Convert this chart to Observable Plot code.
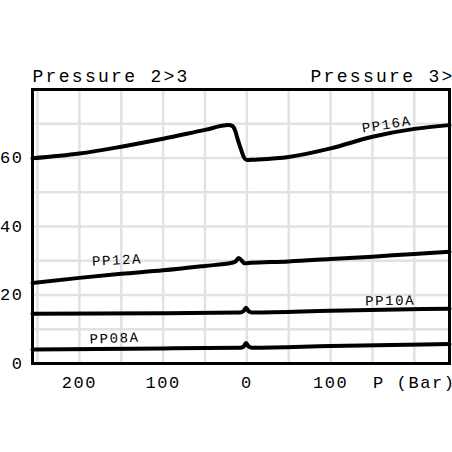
<!DOCTYPE html>
<html>
<head>
<meta charset="utf-8">
<script src="https://cdn.jsdelivr.net/npm/d3@7"></script>
<script src="https://cdn.jsdelivr.net/npm/@observablehq/plot@0.6"></script>
<style>
  html, body { margin: 0; padding: 0; background: #fff; overflow: hidden; }
  svg text { letter-spacing: 1.6px; }
  svg .title text { letter-spacing: 2.3px; }
</style>
</head>
<body>
<div id="chart"></div>
<script>
// Pressure in bar: negative = "Pressure 2>3" side (left), positive = "Pressure 3>2" side (right)
const pp16Bar = [-256, -200, -150, -100, -50, -22, -17, -14, -11, -7, -3, 0, 8, 50, 100, 150, 200, 242];
const pp16Val = [59.9, 61.3, 63.3, 65.6, 68.2, 69.6, 69.3, 68.0, 65.5, 62.5, 60.0, 59.4, 59.5, 60.3, 62.8, 66.2, 68.5, 69.6];

const pp12Bar = [-256, -200, -150, -100, -50, -18, -13, -10, -7, -3, 5, 50, 100, 150, 200, 242];
const pp12Val = [23.5, 25.0, 26.2, 27.2, 28.5, 29.4, 29.9, 30.8, 30.3, 29.3, 29.4, 29.8, 30.5, 31.2, 32.0, 32.6];

const pp10Bar = [-256, -100, -8, -4, -1, 2, 6, 100, 242];
const pp10Val = [14.5, 14.7, 14.9, 15.3, 16.3, 15.3, 14.9, 15.4, 16.0];

const pp08Bar = [-256, -100, -8, -4, -1, 2, 6, 100, 242];
const pp08Val = [4.1, 4.4, 4.6, 4.9, 6.0, 5.0, 4.6, 5.1, 5.7];

const seriesNames = ["PP16A", "PP12A", "PP10A", "PP08A"];
const labelBar = [167, -155, 171, -158];
const labelVal = [69.8, 30.2, 18.4, 7.4];
const labelAngle = [-9, -3, -1, -2];

const xTickValues = [-200, -100, 0, 100, 200];
const xTickLabels = ["200", "100", "0", "100", "P (Bar)"];
const yTickValues = [0, 20, 40, 60];
const xGrid = [-250, -200, -150, -100, -50, 0, 50, 100, 150, 200];
const yGrid = [10, 20, 30, 40, 50, 60, 70];
const titles = ["Pressure 2>3", "Pressure 3>2"];

const toRows = (xs, ys, name) => xs.map((x, i) => ({x, y: ys[i], name}));
const lines = [
  toRows(pp16Bar, pp16Val, "PP16A"),
  toRows(pp12Bar, pp12Val, "PP12A"),
  toRows(pp10Bar, pp10Val, "PP10A"),
  toRows(pp08Bar, pp08Val, "PP08A")
];
const labels = seriesNames.map((n, i) => ({name: n, x: labelBar[i], y: labelVal[i], a: labelAngle[i]}));

const font = "'Liberation Mono', 'DejaVu Sans Mono', monospace";

const chart = Plot.plot({
  width: 452,
  height: 452,
  marginLeft: 32,
  marginRight: 3,
  marginTop: 89,
  marginBottom: 89,
  style: {fontFamily: font, fontSize: "17px", color: "#000", background: "#fff"},
  x: {
    domain: [-256, 242],
    ticks: xTickValues,
    tickFormat: d => xTickLabels[xTickValues.indexOf(d)],
    tickSize: 0,
    tickPadding: 12,
    label: null
  },
  y: {
    domain: [0, 80],
    ticks: yTickValues,
    tickSize: 0,
    tickPadding: 9,
    label: null
  },
  marks: [
    Plot.ruleX(xGrid, {stroke: "#e2e2e2", strokeWidth: 2.5}),
    Plot.ruleY(yGrid, {stroke: "#e2e2e2", strokeWidth: 2.5}),
    ...lines.map(rows => Plot.line(rows, {x: "x", y: "y", stroke: "#000", strokeWidth: 4, curve: "monotone-x", strokeLinejoin: "round"})),
    ...labels.map(l => Plot.text([l], {x: "x", y: "y", text: "name", rotate: l.a, fontSize: 14, fill: "#000"})),
    Plot.frame({stroke: "#000", strokeWidth: 3}),
    Plot.text([titles[0]], {frameAnchor: "top-left", text: d => d, textAnchor: "start", dy: -20, fontSize: 18, className: "title"}),
    Plot.text([titles[1]], {x: () => 76, frameAnchor: "top", text: d => d, textAnchor: "start", dy: -20, fontSize: 18, className: "title"})
  ]
});
document.getElementById("chart").appendChild(chart);
</script>
</body>
</html>
